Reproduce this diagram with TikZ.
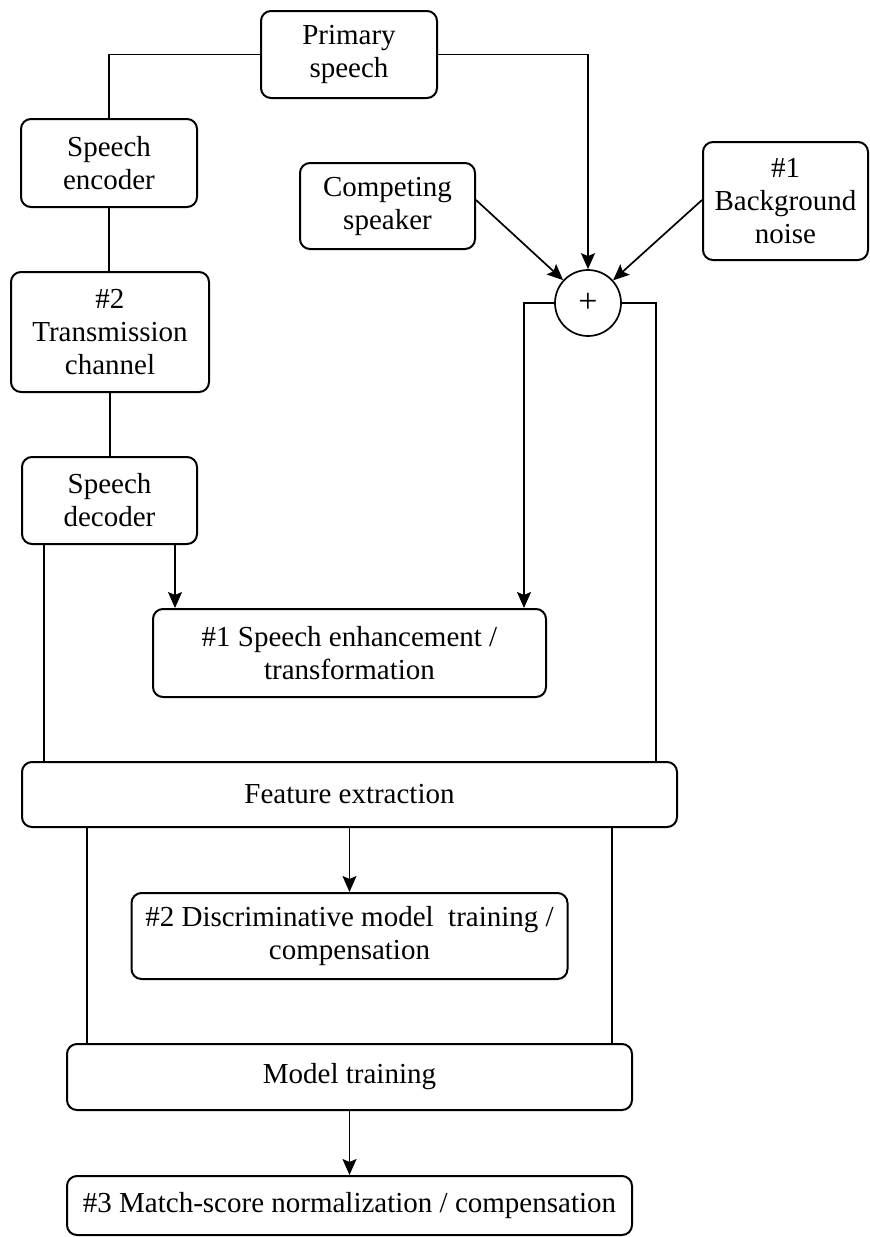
\documentclass[tikz,border=0pt]{standalone}
\usepackage{fontspec}
\setmainfont{Liberation Serif}
\usetikzlibrary{arrows.meta}
\begin{document}
\begin{tikzpicture}[x=1pt,y=-1pt,
  every node/.style={font=\fontsize{29}{33}\selectfont},
  block/.style={draw, line width=2pt, rounded corners=10pt, align=center,
    inner sep=0pt, minimum width=#1},
  conn/.style={line width=1.7pt},
  arr/.style={conn, -{Stealth[length=16pt,width=14pt,inset=3pt]}},
]
\useasboundingbox (0,0) rectangle (870,1237);

% source and channel blocks
\node[block=176pt, minimum height=87pt] (ps) at (349,54.5) {Primary\\speech};
\node[block=176pt, minimum height=88pt] (enc) at (109,163) {Speech\\encoder};
\node[block=198pt, minimum height=120pt] (tx) at (110,332) {\#2\\Transmission\\channel};
\node[block=175pt, minimum height=87pt] (dec) at (109.5,500.5) {Speech\\decoder};
\node[block=175pt, minimum height=86pt] (comp) at (387.5,206) {Competing\\speaker};
\node[block=165pt, minimum height=118pt] (bg) at (785.5,201) {\#1\\Background\\noise};

% summing junction
\node[draw, circle, line width=1.7pt, minimum size=66pt, inner sep=0pt,
  font=\fontsize{34}{38}\selectfont] (sum) at (588,303) {+};

% processing chain
\node[block=393pt, minimum height=88pt] (enh) at (349.5,653)
  {\#1 Speech enhancement /\\transformation};
\node[block=655pt, minimum height=65pt] (fe) at (349.5,794.5) {Feature extraction};
\node[block=436pt, minimum height=86pt] (disc) at (349.5,936)
  {\#2 Discriminative model\ \ training /\\compensation};
\node[block=565pt, minimum height=66pt] (mt) at (349.5,1077) {Model training};
\node[block=565pt, minimum height=59pt] (ms) at (349.5,1205.5)
  {\#3 Match-score normalization / compensation};

% channel path
\draw[conn] (ps.west) -| (enc.north);
\draw[conn] (enc.south) -- (enc.south |- tx.north);
\draw[conn] (tx.south) -- (tx.south |- dec.north);

% mixing
\draw[arr] (ps.east) -| (sum.north);
\draw[arr] ([yshift=6pt]comp.east) -- (sum);
\draw[arr] ([yshift=1pt]bg.west) -- (sum);

% into enhancement and feature extraction
\draw[arr] ([xshift=65.5pt]dec.south) -- ([xshift=65.5pt]dec.south |- enh.north);
\draw[conn] ([xshift=-65.5pt]dec.south) -- ([xshift=-65.5pt]dec.south |- fe.north);
\draw[arr] (sum.west) -| ([xshift=-23pt]enh.north east);
\draw[conn] (sum.east) -| ([xshift=-22pt]fe.north east);

% back end
\draw[arr] (fe.south) -- (disc.north);
\draw[conn] ([xshift=21pt]mt.north west |- fe.south) -- ([xshift=21pt]mt.north west);
\draw[conn] ([xshift=-21pt]mt.north east |- fe.south) -- ([xshift=-21pt]mt.north east);
\draw[arr] (mt.south) -- (ms.north);
\end{tikzpicture}
\end{document}
